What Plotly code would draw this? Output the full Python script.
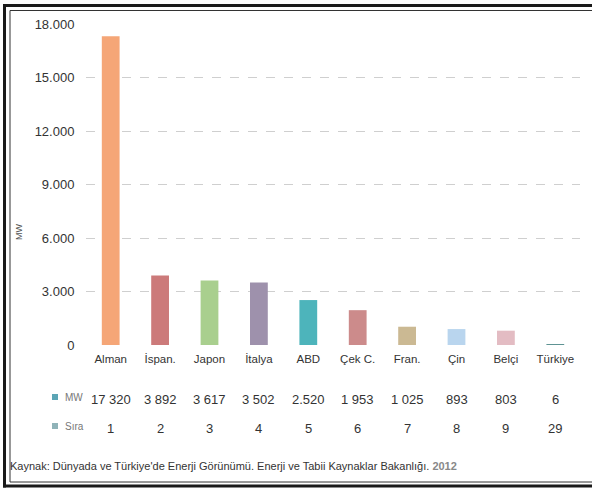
import plotly.graph_objects as go

# ---- data ----
countries = ["Alman", "İspan.", "Japon", "İtalya", "ABD", "Çek C.", "Fran.", "Çin", "Belçi", "Türkiye"]
mw_values = [17320, 3892, 3617, 3502, 2520, 1953, 1025, 893, 803, 6]
mw_labels = ["17 320", "3 892", "3 617", "3 502", "2.520", "1 953", "1 025", "893", "803", "6"]
rank_values = [1, 2, 3, 4, 5, 6, 7, 8, 9, 29]
y_tick_vals = [0, 3000, 6000, 9000, 12000, 15000, 18000]
y_tick_text = ["0", "3.000", "6.000", "9.000", "12.000", "15.000", "18.000"]
source_text = "Kaynak: Dünyada ve Türkiye'de Enerji Görünümü. Enerji ve Tabii Kaynaklar Bakanlığı. 2012"

bar_colors = ["#F5A677", "#CC7A7A", "#A9CF8E", "#9E91AC", "#4DB4BB",
              "#CC8B8B", "#CBB993", "#B9D5EE", "#E3BCC3", "#5E9393"]

NARROW = "Liberation Sans Narrow, Arial Narrow, Liberation Sans, Arial, sans-serif"
REG = "Liberation Sans, Arial, sans-serif"

W, H = 592, 492
L, R, T, B = 86, 12, 24, 147
PW = W - L - R
PH = H - T - B


def px(x):
    return (x - L) / PW


def py(y):
    return (H - B - y) / PH


fig = go.Figure()
fig.add_trace(go.Bar(
    x=countries, y=mw_values,
    marker=dict(color=bar_colors, line=dict(width=0)),
    width=0.36, hoverinfo="x+y", showlegend=False,
))

annotations = []
for c, lab, rk in zip(countries, mw_labels, rank_values):
    annotations.append(dict(x=c, xref="x", y=py(399), yref="paper", text=lab,
                            showarrow=False, xanchor="center", yanchor="middle",
                            font=dict(family=REG, size=13, color="#333333")))
    annotations.append(dict(x=c, xref="x", y=py(428), yref="paper", text=str(rk),
                            showarrow=False, xanchor="center", yanchor="middle",
                            font=dict(family=REG, size=13, color="#333333")))

annotations += [
    dict(x=px(63), y=py(397), xref="paper", yref="paper", text="MW", showarrow=False,
         xanchor="left", yanchor="middle", font=dict(family=NARROW, size=10, color="#777777")),
    dict(x=px(63), y=py(426), xref="paper", yref="paper", text="Sıra", showarrow=False,
         xanchor="left", yanchor="middle", font=dict(family=NARROW, size=10, color="#777777")),
    dict(x=px(19), y=py(232), xref="paper", yref="paper", text="MW", showarrow=False,
         textangle=-90, xanchor="center", yanchor="middle",
         font=dict(family=NARROW, size=9, color="#555555")),
    dict(x=px(8), y=py(466), xref="paper", yref="paper", showarrow=False,
         text=source_text[:-4] + "<span style='color:#888888'><b>2012</b></span>",
         xanchor="left", yanchor="middle", font=dict(family=NARROW, size=11, color="#333333")),
]


def frame_line(x0, y0, x1, y1, color, width):
    return dict(type="line", xref="paper", yref="paper",
                x0=px(x0), y0=py(y0), x1=px(x1), y1=py(y1),
                line=dict(color=color, width=width))


shapes = [
    dict(type="rect", xref="paper", yref="paper", x0=px(52), x1=px(58), y0=py(400), y1=py(394),
         fillcolor="#5BA5B5", line=dict(width=0)),
    dict(type="rect", xref="paper", yref="paper", x0=px(52), x1=px(58), y0=py(429), y1=py(423),
         fillcolor="#8FB3B8", line=dict(width=0)),
    # outer thick frame (left, top, bottom)
    frame_line(4.5, 4, 4.5, 487.5, "#1a1a1a", 3),
    frame_line(3, 5.5, 600, 5.5, "#1a1a1a", 3),
    frame_line(3, 486, 600, 486, "#1a1a1a", 3),
    # inner thin frame
    frame_line(10, 10.5, 10, 482, "#333333", 1),
    frame_line(10, 10.5, 600, 10.5, "#333333", 1),
    frame_line(10, 482, 600, 482, "#333333", 1),
]

fig.update_layout(
    width=W, height=H,
    margin=dict(l=L, r=R, t=T, b=B, pad=0),
    paper_bgcolor="white", plot_bgcolor="white",
    bargap=0.64,
    annotations=annotations, shapes=shapes,
    xaxis=dict(
        range=[-0.5, 9.5], showgrid=False, showline=False, zeroline=False,
        ticks="outside", ticklen=3, tickcolor="rgba(0,0,0,0)",
        tickfont=dict(family=NARROW, size=11.5, color="#333333"),
        fixedrange=True,
    ),
    yaxis=dict(
        range=[0, 18000], tickvals=y_tick_vals, ticktext=y_tick_text,
        showgrid=True, gridcolor="#cfcfcf", griddash="dash", gridwidth=1,
        zeroline=False, showline=False,
        ticks="outside", ticklen=8, tickcolor="rgba(0,0,0,0)",
        tickfont=dict(family=REG, size=13, color="#333333"),
        fixedrange=True,
    ),
)

fig.write_html(
    "out.html",
    config={"displayModeBar": False},
    post_script="document.body.style.margin='0';document.body.style.overflow='hidden';",
)
